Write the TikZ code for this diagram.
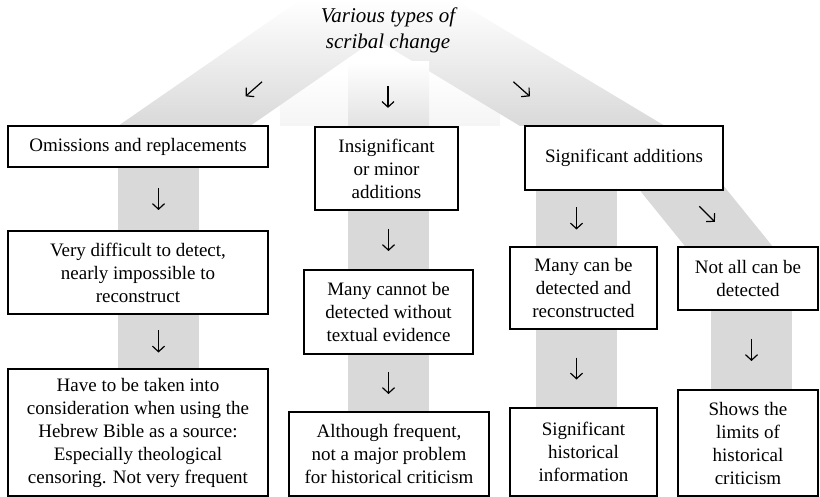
\documentclass[tikz,border=0pt]{standalone}
\usepackage{fontspec}
\setmainfont{Liberation Serif}
\usetikzlibrary{arrows.meta,calc,backgrounds}
\definecolor{BandGray}{HTML}{D9D9D9}
\definecolor{RoofGray}{HTML}{E2E2E2}

\begin{document}
\begin{tikzpicture}[x=1pt, y=-1pt,
    box/.style={draw=black, line width=1.5pt, fill=white, align=center, inner sep=0pt, font=\fontsize{19}{23}\selectfont},
    band/.style={draw=BandGray, line width=81pt},
    tip/.style={-{Straight Barb[length=5.5pt,width=12pt]}, line width=1.2pt,
      to path={($(\tikztostart)!#1!(\tikztotarget)!11pt!(\tikztostart)$) -- ($(\tikztostart)!#1!(\tikztotarget)!11pt!(\tikztotarget)$)}},
    tip/.default=0.5
  ]
    \useasboundingbox (0,0) rectangle (820,497);

    \node[font=\itshape\fontsize{21}{26}\selectfont, align=center, inner sep=0pt] (title) at (388,30) {Various types of\\scribal change};

    % first row
    \node[box, minimum width=260pt, minimum height=41pt] (om) at (138,146.5) {Omissions and replacements};
    \node[box, minimum width=143pt, minimum height=83pt] (ins) at (386.5,168.5) {Insignificant\\or minor\\additions};
    \node[box, minimum width=198pt, minimum height=64pt] (sig) at (624,158) {Significant additions};

    % second row
    \node[box, minimum width=260pt, minimum height=83pt] (vd) at (138,272.5) {Very difficult to detect,\\nearly impossible to\\reconstruct};
    \node[box, minimum width=169pt, minimum height=84pt] (mc) at (388.5,312) {Many cannot be\\detected without\\textual evidence};
    \node[box, minimum width=147pt, minimum height=82pt] (mcd) at (583.5,288) {Many can be\\detected and\\reconstructed};
    \node[box, minimum width=140pt, minimum height=63pt] (na) at (748,278.5) {Not all can be\\detected};

    % third row
    \node[box, minimum width=260pt, minimum height=127pt] (ht) at (138,432.5) {Have to be taken into\\consideration when using the\\Hebrew Bible as a source:\\Especially theological\\censoring. Not very frequent};
    \node[box, minimum width=200pt, minimum height=84pt] (af) at (389,454) {Although frequent,\\not a major problem\\for historical criticism};
    \node[box, minimum width=147pt, minimum height=88pt] (shi) at (583.5,452) {Significant\\historical\\information};
    \node[box, minimum width=140pt, minimum height=106pt] (lim) at (748,443) {Shows the\\limits of\\historical\\criticism};

    \coordinate (c1) at (158.5,0);
    \coordinate (c2) at (388.5,0);
    \coordinate (c3) at (576.5,0);
    \coordinate (c4) at (751.5,0);

    \begin{scope}[on background layer]
      % roof behind the title
      \shade[top color=white, bottom color=black!4] (280,73) rectangle (500,126);
      \shade[top color=white, bottom color=BandGray] (300,0) -- (432,0) -- (250,126) -- (118,126) -- cycle;
      \shade[top color=white, bottom color=BandGray] (311,0) -- (455,0) -- (665,126) -- (520,126) -- cycle;
      \shade[top color=white, bottom color=RoofGray] (348,62) rectangle (429,126);
      % columns
      \draw[band] (om.south -| c1) -- (vd.north -| c1);
      \draw[band] (vd.south -| c1) -- (ht.north -| c1);
      \draw[band] (ins.south -| c2) -- (mc.north -| c2);
      \draw[band] (mc.south -| c2) -- (af.north -| c2);
      \draw[band] (sig.south -| c3) -- (mcd.north -| c3);
      \draw[band] (mcd.south -| c3) -- (shi.north -| c3);
      \draw[band, line width=68pt] ($(sig.center)+(35,2)$) -- ($(na.center)+(4,-3.5)$);
      \draw[band] (na.south -| c4) -- (lim.north -| c4);
    \end{scope}

    \draw[tip=0.62] (title.west) to ([xshift=-56pt]om.north east);
    \draw[tip=0.6] (title.south) to (title.south |- ins.north);
    \draw[tip=0.62] (title.east) to ([xshift=38pt]sig.north west);

    \draw[tip] (om.south -| c1) to (vd.north -| c1);
    \draw[tip] (vd.south -| c1) to (ht.north -| c1);
    \draw[tip] (ins.south -| c2) to (mc.north -| c2);
    \draw[tip] (mc.south -| c2) to (af.north -| c2);
    \draw[tip] (sig.south -| c3) to (mcd.north -| c3);
    \draw[tip] (mcd.south -| c3) to (shi.north -| c3);
    \draw[tip=0.42] ([xshift=-40pt]sig.south east) to ([xshift=62pt]na.north west);
    \draw[tip] (na.south -| c4) to (lim.north -| c4);
\end{tikzpicture}
\end{document}
